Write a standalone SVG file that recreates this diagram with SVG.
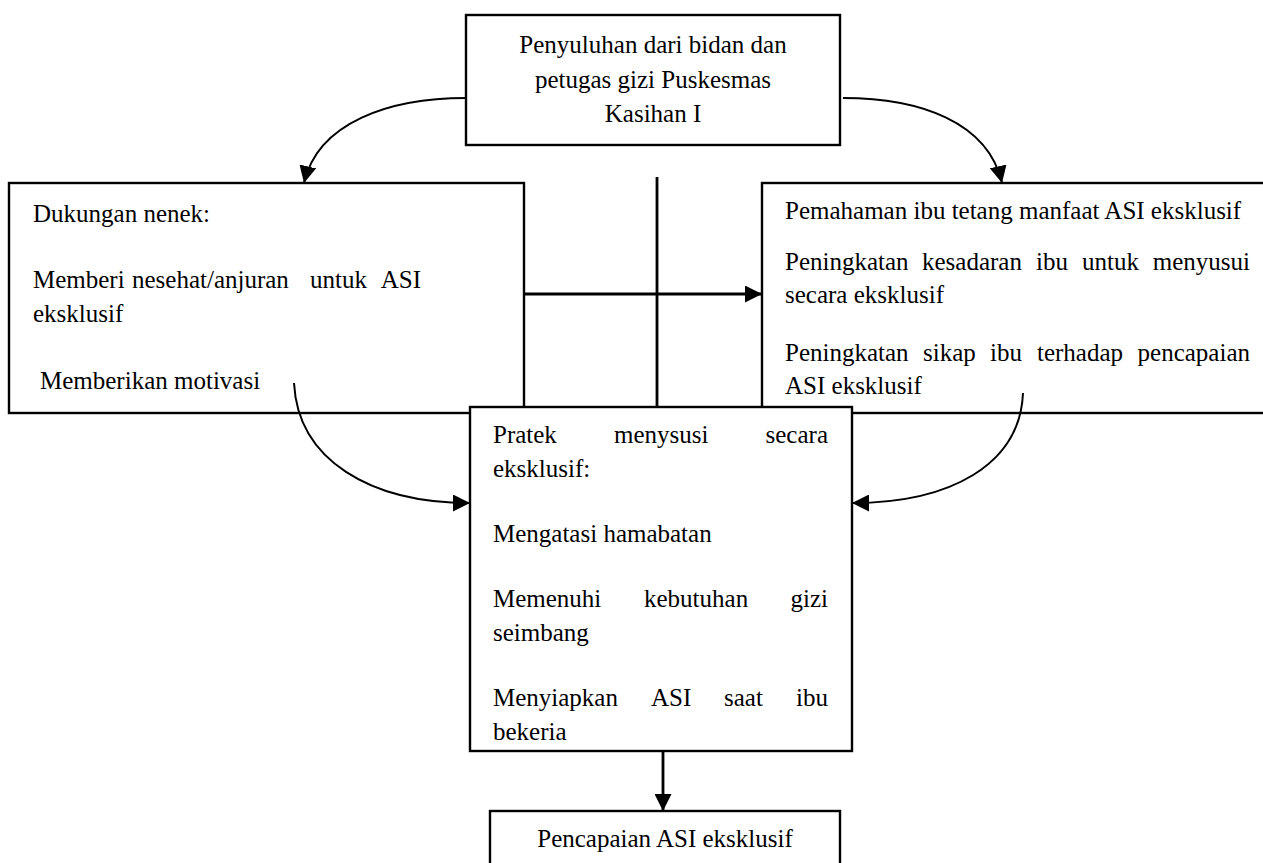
<svg xmlns="http://www.w3.org/2000/svg" width="1263" height="863" viewBox="0 0 1263 863">
<style>
.box{fill:#fff;stroke:#000;stroke-width:2.4}
text{font-family:"Liberation Serif","Times New Roman",serif;font-size:25px;fill:#000}
.c{text-anchor:middle}
.e{text-anchor:end}
.ln{fill:none;stroke:#000;stroke-width:2.8}
.cv{fill:none;stroke:#000;stroke-width:2}
</style>
<defs>
<marker id="ah" viewBox="0 0 10 10" refX="10" refY="5" markerWidth="17" markerHeight="17" markerUnits="userSpaceOnUse" orient="auto">
<path d="M0,0 L10,5 L0,10 z" fill="#000"/>
</marker>
</defs>
<rect width="1263" height="863" fill="#fff"/>

<g id="node-dukungan">
<rect class="box" x="9" y="183" width="515" height="230"/>
<text x="33" y="222">Dukungan nenek:</text>
<text y="288"><tspan x="33">Memberi</tspan><tspan x="132">nesehat/anjuran</tspan><tspan x="310">untuk</tspan><tspan x="421" text-anchor="end">ASI</tspan></text>
<text x="33" y="322">eksklusif</text>
<text x="40" y="389">Memberikan motivasi</text>
</g>

<g id="node-pemahaman">
<rect class="box" x="762" y="183" width="510" height="230"/>
<text x="785" y="219">Pemahaman ibu tetang manfaat ASI eksklusif</text>
<text y="270"><tspan x="785">Peningkatan</tspan><tspan x="922">kesadaran</tspan><tspan x="1036">ibu</tspan><tspan x="1082">untuk</tspan><tspan x="1250" text-anchor="end">menyusui</tspan></text>
<text x="785" y="303">secara eksklusif</text>
<text y="361"><tspan x="785">Peningkatan</tspan><tspan x="923">sikap</tspan><tspan x="990">ibu</tspan><tspan x="1037">terhadap</tspan><tspan x="1250" text-anchor="end">pencapaian</tspan></text>
<text x="785" y="394">ASI eksklusif</text>
</g>

<g id="connectors">
<path class="cv" d="M466,98 C390,98 318,122 304,183" marker-end="url(#ah)"/>
<path class="cv" d="M843,98 C920,98 988,122 1002,183" marker-end="url(#ah)"/>
<path class="ln" d="M524,294 L762,294" marker-end="url(#ah)"/>
<path class="ln" d="M657,177 L657,407"/>
<path class="cv" d="M294,383 C298,460 370,503 470,503" marker-end="url(#ah)"/>
<path class="cv" d="M1023,393 C1020,465 950,503 852,503" marker-end="url(#ah)"/>
<path class="ln" d="M663,751 L663,811" marker-end="url(#ah)"/>
</g>

<g id="node-penyuluhan">
<rect class="box" x="466" y="15" width="374" height="130"/>
<text class="c" x="653" y="53">Penyuluhan dari bidan dan</text>
<text class="c" x="653" y="88">petugas gizi Puskesmas</text>
<text class="c" x="653" y="122">Kasihan I</text>
</g>

<g id="node-pratek">
<rect class="box" x="470" y="407" width="382" height="344"/>
<text y="443"><tspan x="493">Pratek</tspan><tspan x="614">menysusi</tspan><tspan x="828" text-anchor="end">secara</tspan></text>
<text x="493" y="477">eksklusif:</text>
<text x="493" y="542">Mengatasi hamabatan</text>
<text y="607"><tspan x="493">Memenuhi</tspan><tspan x="644">kebutuhan</tspan><tspan x="828" text-anchor="end">gizi</tspan></text>
<text x="493" y="641">seimbang</text>
<text y="706"><tspan x="493">Menyiapkan</tspan><tspan x="651">ASI</tspan><tspan x="724">saat</tspan><tspan x="828" text-anchor="end">ibu</tspan></text>
<text x="493" y="740">bekeria</text>
</g>

<g id="node-pencapaian">
<rect class="box" x="490" y="811" width="350" height="60"/>
<text class="c" x="665" y="847">Pencapaian ASI eksklusif</text>
</g>
</svg>
